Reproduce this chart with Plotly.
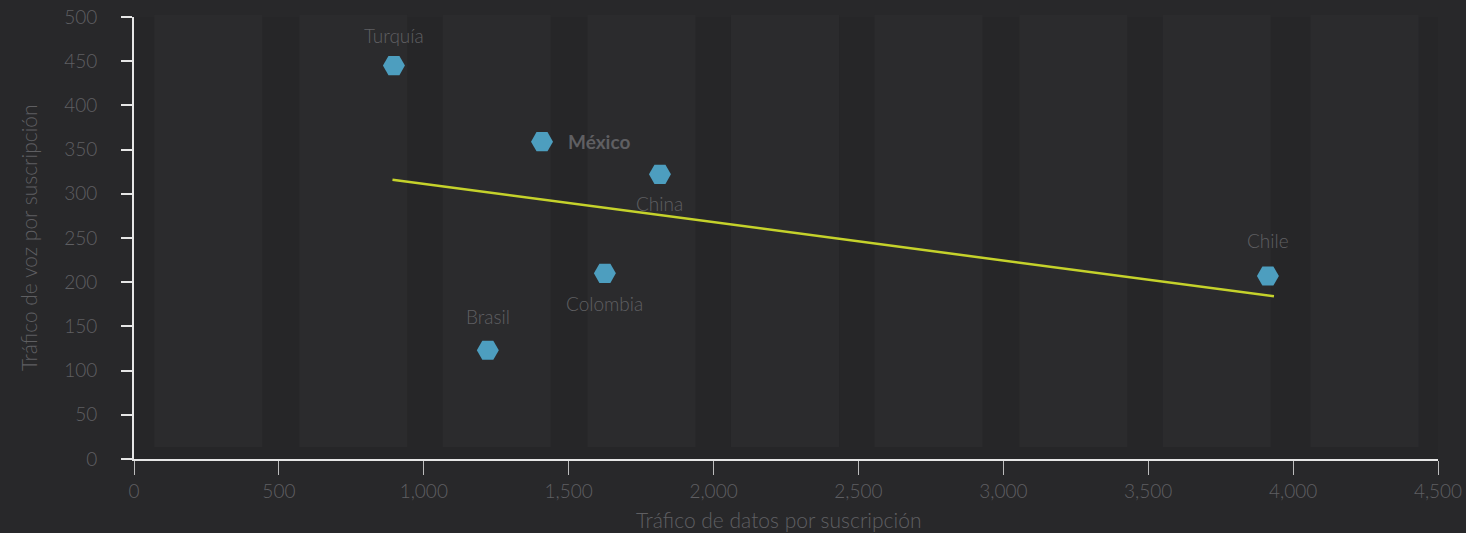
import plotly.graph_objects as go

countries = ["Turquía", "México", "China", "Colombia", "Brasil", "Chile"]
data_traffic = [897, 1408, 1815, 1625, 1221, 3913]
voice_traffic = [445, 359, 322, 210, 123, 207]

# label placement (style only): (x shift px, y shift px, anchor)
label_offsets = [(0, 30, "center"), (24, 0, "left"), (0, -29, "center"),
                 (0, -30, "center"), (0, 34, "center"), (0, 36, "center")]

trend_x = [892, 3934]
trend_y = [316, 184]

x_ticks = [0, 500, 1000, 1500, 2000, 2500, 3000, 3500, 4000, 4500]
x_tick_text = ["0", "500", "1,000", "1,500", "2,000", "2,500", "3,000", "3,500", "4,000", "4,500"]
y_ticks = [0, 50, 100, 150, 200, 250, 300, 350, 400, 450, 500]

band_starts = [70, 570, 1065, 1565, 2060, 2555, 3055, 3550, 4060]
band_width = 373

FONT = "Lato"
TXT = "#5f5f62"
PAPER = "#28282a"
PLOT = "#262628"
BAND = "#2b2b2d"

fig = go.Figure()

shapes = []
for b in band_starts:
    shapes.append(dict(type="rect", xref="x", yref="paper", x0=b, x1=b + band_width,
                       y0=0.027, y1=1.005, fillcolor=BAND, line=dict(width=0), layer="below"))

fig.add_trace(go.Scatter(
    x=trend_x, y=trend_y, mode="lines",
    line=dict(color="#c5d22b", width=2.5), hoverinfo="skip", showlegend=False))

fig.add_trace(go.Scatter(
    x=data_traffic, y=voice_traffic, mode="markers",
    marker=dict(symbol="hexagon2", size=22, color="#4d9ebf", line=dict(width=0)),
    text=countries, hoverinfo="text", showlegend=False))

annotations = []
for c, xv, yv, (dx, dy, anchor) in zip(countries, data_traffic, voice_traffic, label_offsets):
    txt = f"<b>{c}</b>" if c == "México" else c
    annotations.append(dict(x=xv, y=yv, xref="x", yref="y", text=txt, showarrow=False,
                            xshift=dx, yshift=dy, xanchor=anchor, yanchor="middle",
                            font=dict(family=FONT, size=19, color=TXT, weight=300)))

W, H = 1466, 533
L, R, T, B = 134, 28, 17, 74
annotations.append(dict(x=(778 - L) / (W - L - R), y=(H - B - 519) / (H - T - B),
                        xref="paper", yref="paper", text="Tráfico de datos por suscripción",
                        showarrow=False, xanchor="center", yanchor="middle",
                        font=dict(family=FONT, size=21, color=TXT, weight=300)))
annotations.append(dict(x=(28 - L) / (W - L - R), y=(H - B - 238) / (H - T - B),
                        xref="paper", yref="paper", text="Tráfico de voz por suscripción",
                        showarrow=False, xanchor="center", yanchor="middle", textangle=-90,
                        font=dict(family=FONT, size=21, color=TXT, weight=300)))

fig.update_layout(
    width=W, height=H,
    paper_bgcolor=PAPER, plot_bgcolor=PLOT,
    margin=dict(l=L, r=R, t=T, b=B, autoexpand=False),
    shapes=shapes, annotations=annotations,
    font=dict(family=FONT, color=TXT, size=19, weight=300),
    xaxis=dict(range=[0, 4500], tickvals=x_ticks, ticktext=x_tick_text,
               showgrid=False, zeroline=False, showline=True, linecolor="#e6e6e6", linewidth=2,
               ticks="outside", ticklen=14, tickwidth=1, tickcolor="#bdbdbd",
               tickfont=dict(family=FONT, size=19, color=TXT, weight=300)),
    yaxis=dict(range=[0, 500], tickvals=y_ticks,
               showgrid=False, zeroline=False, showline=True, linecolor="#e6e6e6", linewidth=2,
               ticks="outside", ticklen=11, tickwidth=2, tickcolor="#e6e6e6",
               ticklabelstandoff=20,
               tickfont=dict(family=FONT, size=19, color=TXT, weight=300)),
)

fig.write_html("out.html", config={"displayModeBar": False},
               post_script="document.body.style.margin='0';")
